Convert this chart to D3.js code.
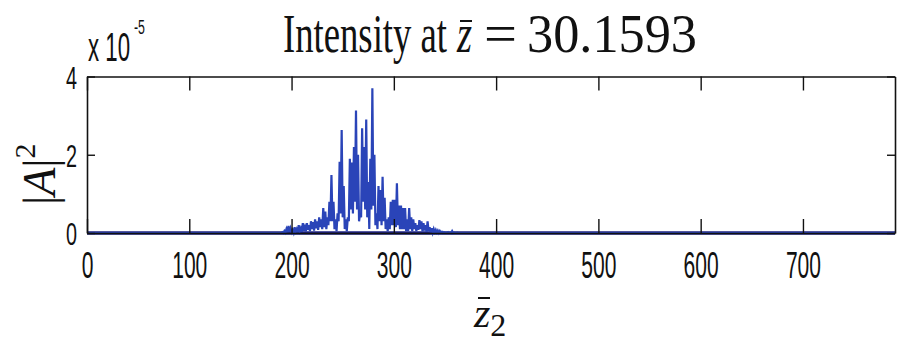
<!DOCTYPE html>
<html>
<head>
<meta charset="utf-8">
<script src="https://cdn.jsdelivr.net/npm/d3@7"></script>
<style>
  body { margin: 0; background: #fff; }
  svg { display: block; }
</style>
</head>
<body>
<script>
// z2 grid of the pulse (one sample per unit) and |A|^2 values in units of 1e-5
const pulseStart = 190;
const intensity = [
  0, 0.02, 0, 0.05, 0.01, 0.1, 0.02, 0.18, 0.03, 0.12,
  0.02, 0.08, 0.01, 0.15, 0.04, 0.1, 0.02, 0.2, 0.05, 0.12,
  0.03, 0.25, 0.06, 0.15, 0.04, 0.25, 0.08, 0.2, 0.05, 0.3,
  0.1, 0.28, 0.06, 0.35, 0.12, 0.3, 0.08, 0.4, 0.15, 0.35,
  0.1, 0.64, 0.15, 0.55, 0.1, 0.4, 0.2, 0.8, 0.3, 1.48,
  0.3, 0.8, 0.1, 0.35, 0.05, 0.5, 0.3, 1.82, 0.5, 2.63,
  0.4, 1.2, 0.1, 0.35, 0.05, 0.4, 0.3, 1.9, 0.6, 1.8,
  0.5, 2.2, 0.8, 3.13, 0.6, 2.0, 0.3, 0.5, 0.4, 2.68,
  0.8, 2.2, 0.6, 2.9, 0.4, 1.3, 0.1, 1.9, 0.6, 3.7,
  0.7, 2.0, 0.2, 0.5, 0.1, 1.2, 0.3, 1.1, 0.2, 1.44,
  0.3, 0.9, 0.1, 0.35, 0.05, 0.4, 0.1, 0.8, 0.2, 0.85,
  0.2, 0.85, 0.15, 1.27, 0.2, 0.7, 0.1, 0.7, 0.1, 0.64,
  0.1, 0.64, 0.05, 0.35, 0.05, 0.64, 0.1, 0.4, 0.05, 0.35,
  0.1, 0.25, 0.05, 0.2, 0.08, 0.33, 0.1, 0.3, 0.04, 0.25,
  0.06, 0.2, 0.03, 0.3, 0.05, 0.15, 0.02, 0.12, 0.01, 0.1,
  0.02, 0.08, 0.01, 0.06, 0, 0.05, 0.01, 0.03, 0, 0.02,
  0, 0.01, 0, 0.02, 0, 0.01, 0, 0.05, 0, 0.01,
  0, 0, 0.01, 0, 0, 0
];
const xDomain = [0, 790];
const yDomain = [0, 4];
const xTicks = [0, 100, 200, 300, 400, 500, 600, 700];
const yTicks = [0, 2, 4];

const W = 897, H = 344;
const m = { left: 87, right: 2, top: 76.5, bottom: 111 };

const svg = d3.select("body").append("svg").attr("width", W).attr("height", H);

const x = d3.scaleLinear().domain(xDomain).range([m.left, W - m.right]);
const y = d3.scaleLinear().domain(yDomain).range([H - m.bottom, m.top]);

const pts = [[xDomain[0], 0]];
intensity.forEach((v, i) => pts.push([pulseStart + i, v]));
pts.push([xDomain[1], 0]);

const line = d3.line().x(d => x(d[0])).y(d => y(d[1]));

// thick zero line
svg.append("path")
  .attr("d", line([[xDomain[0], 0], [xDomain[1], 0]]))
  .attr("stroke", "#1c2080").attr("stroke-width", 3.5).attr("fill", "none");

svg.append("path")
  .attr("d", line(pts))
  .attr("stroke", "#2a44b8").attr("stroke-width", 2.2)
  .attr("stroke-linejoin", "miter").attr("fill", "none");

// axes, ticks pointing inward, mirrored on top/right
const labelFont = "'Liberation Sans', Arial, sans-serif";
const xb = svg.append("g").attr("transform", `translate(0,${y(0)})`)
  .call(d3.axisBottom(x).tickValues(xTicks).tickSizeInner(-14).tickSizeOuter(0).tickFormat(d3.format("d")));
xb.selectAll("text")
  .attr("y", 45).attr("dy", 0)
  .attr("font-family", labelFont).attr("font-size", 36).attr("fill", "#111")
  .each(function(d) {
    d3.select(this).attr("textLength", String(d).length * 11.7).attr("lengthAdjust", "spacingAndGlyphs");
  });

svg.append("g").attr("transform", `translate(0,${y(4)})`)
  .call(d3.axisTop(x).tickValues(xTicks).tickSizeInner(-14).tickSizeOuter(0).tickFormat(""));

const yl = svg.append("g").attr("transform", `translate(${x(0)},0)`)
  .call(d3.axisLeft(y).tickValues(yTicks).tickSizeInner(-8).tickSizeOuter(0).tickFormat(d3.format("d")));
yl.selectAll("text")
  .attr("x", -10).attr("dy", "0.36em")
  .attr("font-family", labelFont).attr("font-size", 32).attr("fill", "#111")
  .attr("textLength", 11).attr("lengthAdjust", "spacingAndGlyphs");

svg.append("g").attr("transform", `translate(${x(xDomain[1])},0)`)
  .call(d3.axisRight(y).tickValues(yTicks).tickSizeInner(-8).tickSizeOuter(0).tickFormat(""));

svg.selectAll(".domain").attr("stroke", "#111").attr("stroke-width", 1.6);
svg.selectAll(".tick line").attr("stroke", "#111").attr("stroke-width", 1.4);

// exponent
svg.append("text").attr("x", 88).attr("y", 61)
  .attr("font-family", labelFont).attr("font-size", 40).attr("fill", "#111")
  .attr("textLength", 42).attr("lengthAdjust", "spacingAndGlyphs").text("x 10");
svg.append("text").attr("x", 134).attr("y", 34)
  .attr("font-family", labelFont).attr("font-size", 20).attr("fill", "#111")
  .attr("textLength", 11).attr("lengthAdjust", "spacingAndGlyphs").text("-5");

// title, placed piece by piece
const serif = "'Liberation Serif', 'DejaVu Serif', serif";
const titleParts = [
  { t: "Intensity at", x: 283, len: 164, italic: false },
  { t: "z", x: 457, len: 15, italic: true },
  { t: "=", x: 484, len: 33, italic: false },
  { t: "30.1593", x: 527, len: 170, italic: false }
];
svg.selectAll("text.title").data(titleParts).join("text")
  .attr("class", "title")
  .attr("x", d => d.x).attr("y", 52)
  .attr("font-family", serif).attr("font-size", 54).attr("fill", "#111")
  .attr("font-style", d => d.italic ? "italic" : "normal")
  .attr("textLength", d => d.len).attr("lengthAdjust", "spacingAndGlyphs")
  .text(d => d.t);
svg.append("line").attr("x1", 460).attr("x2", 472).attr("y1", 21).attr("y2", 21)
  .attr("stroke", "#111").attr("stroke-width", 2);

// x label
svg.append("text").attr("x", 474).attr("y", 327)
  .attr("font-family", serif).attr("font-size", 42).attr("fill", "#111")
  .call(t => {
    t.append("tspan").attr("font-style", "italic").text("z");
    t.append("tspan").attr("dy", 9).attr("font-size", 32).text("2");
  });
svg.append("line").attr("x1", 478).attr("x2", 490).attr("y1", 298).attr("y2", 298)
  .attr("stroke", "#111").attr("stroke-width", 2);

// y label
svg.append("text").attr("transform", "translate(55,205) rotate(-90)")
  .attr("font-family", serif).attr("font-size", 46).attr("fill", "#111")
  .call(t => {
    t.append("tspan").text("|");
    t.append("tspan").attr("font-style", "italic").text("A");
    t.append("tspan").text("|");
    t.append("tspan").attr("dy", -20).attr("font-size", 30).text("2");
  });
</script>
</body>
</html>
